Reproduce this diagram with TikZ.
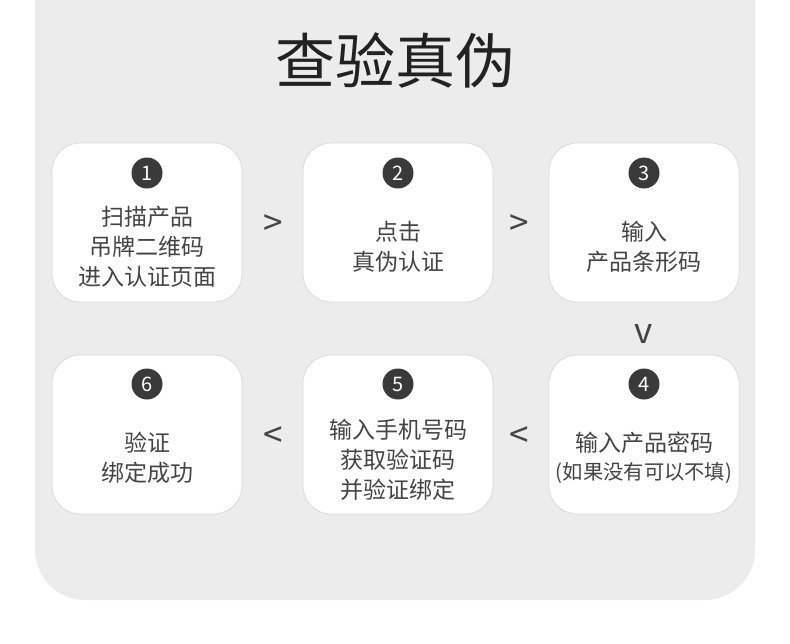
\documentclass[tikz,border=0pt]{standalone}
\usepackage{fontspec}
\setmainfont{Noto Sans CJK SC}
\newfontfamily\cjk{Noto Sans CJK SC}
\definecolor{panelgray}{HTML}{ECECEC}
\definecolor{boxline}{HTML}{DADADA}
\definecolor{txtgray}{HTML}{444444}
\definecolor{circgray}{HTML}{3A3A3A}
\definecolor{titlegray}{HTML}{222222}
\begin{document}
\begin{tikzpicture}[x=1pt,y=-1pt,
  stepbox/.style={draw=boxline,line width=0.8pt,fill=white,rounded corners=28pt,minimum width=190pt,minimum height=159pt,inner sep=0pt},
  numcirc/.style={circle,fill=circgray,minimum size=31pt,inner sep=0pt,text=white,font=\cjk\fontsize{20}{20}\selectfont},
  steptext/.style={align=center,text=txtgray,font=\cjk\fontsize{23}{30}\selectfont,inner sep=0pt},
  sign/.style={text=txtgray,font=\cjk\fontsize{35}{35}\selectfont,inner sep=0pt}]
\useasboundingbox (0,0) rectangle (790,643);
\fill[white] (0,0) rectangle (790,643);
\fill[panelgray,rounded corners=50pt] (35,-80) rectangle (755,600);
\node[text=titlegray,font=\cjk\fontsize{60}{60}\selectfont,inner sep=0pt] (title) at (395,60) {查验真伪};
% boxes
\node[stepbox] (box1) at (147,222.5) {};
\node[stepbox] (box2) at (398,222.5) {};
\node[stepbox] (box3) at (644,222.5) {};
\node[stepbox] (box4) at (644,434.5) {};
\node[stepbox] (box5) at (398,434.5) {};
\node[stepbox] (box6) at (147,434.5) {};
% numbers
\node[numcirc] (n1) at (147,173) {1};
\node[numcirc] (n2) at (398,173) {2};
\node[numcirc] (n3) at (644,173) {3};
\node[numcirc] (n4) at (644,384) {4};
\node[numcirc] (n5) at (398,384) {5};
\node[numcirc] (n6) at (147,384) {6};
% texts
\node[steptext] (t1) at (147,247) {扫描产品\\吊牌二维码\\进入认证页面};
\node[steptext] (t2) at (398,247) {点击\\真伪认证};
\node[steptext] (t3) at (644,247) {输入\\产品条形码};
\node[steptext] (t4a) at (644,443) {输入产品密码};
\node[text=txtgray,font=\cjk\fontsize{20.3}{20.3}\selectfont,inner sep=0pt] (t4b) at (644,473) {(如果没有可以不填)};
\node[steptext] (t5) at (398,460) {输入手机号码\\获取验证码\\并验证绑定};
\node[steptext] (t6) at (147,458) {验证\\绑定成功};
% signs
\node[sign] (s12) at (273,225) {>};
\node[sign] (s23) at (519,225) {>};
\node[sign] (s34) at (644,334) {v};
\node[sign] (s45) at (519,437) {<};
\node[sign] (s56) at (273,437) {<};
\end{tikzpicture}
\end{document}
